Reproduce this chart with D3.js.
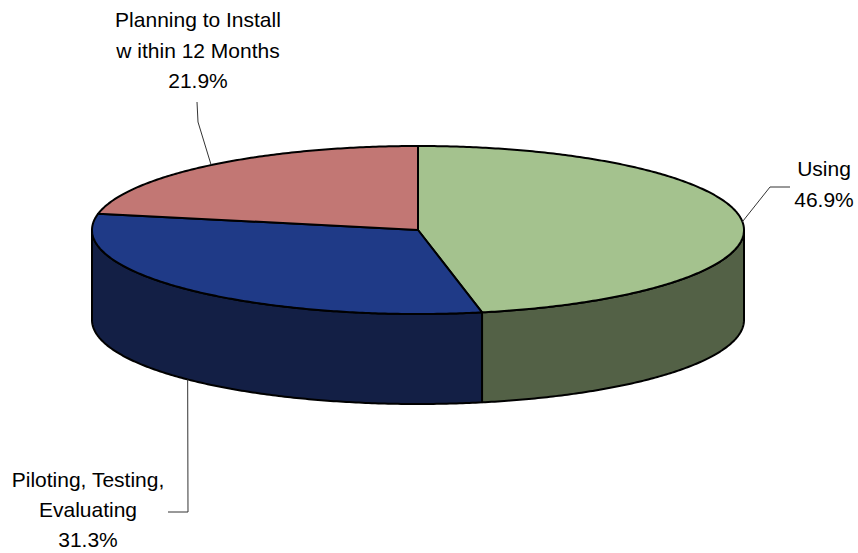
<!DOCTYPE html>
<html><head><meta charset="utf-8">
<script src="https://cdn.jsdelivr.net/npm/d3@7"></script>
<style>body{margin:0;background:#fff}svg{display:block}</style>
</head><body><svg id="c" width="858" height="553"></svg>
<script>
const categories = ["Using", "Piloting, Testing, Evaluating", "Planning to Install within 12 Months"];
const values = [46.9, 31.3, 21.9];
const labelLines = [["Using", "46.9%"], ["Piloting, Testing,", "Evaluating", "31.3%"], ["Planning to Install", "w ithin 12 Months", "21.9%"]];
const topColors = ["#A4C28E", "#1F3A87", "#C27774"];
const sideColors = ["#536146", "#131F45", "#6E4342"];

const W = 858, H = 553;
const cx = 418, cy = 230, rx = 326, ry = 84, depth = 90;
const svg = d3.select("#c");

const pie = d3.pie().sort(null).value(d => d.v)(values.map((v, i) => ({v, i})));
const pt = (a, dy = 0) => [cx + rx * Math.sin(a), cy - ry * Math.cos(a) + dy];
function arcPts(a0, a1, dy = 0) {
  const n = Math.max(2, Math.ceil(Math.abs(a1 - a0) / 0.01));
  return d3.range(n + 1).map(k => pt(a0 + (a1 - a0) * k / n, dy));
}
const line = d3.line();

// side walls
pie.forEach(s => {
  const a0 = Math.max(s.startAngle, Math.PI / 2), a1 = Math.min(s.endAngle, 3 * Math.PI / 2);
  if (a1 <= a0) return;
  const pts = arcPts(a0, a1).concat(arcPts(a1, a0, depth));
  svg.append("path").attr("d", line(pts) + "Z")
    .attr("fill", sideColors[s.data.i]).attr("stroke", "#000").attr("stroke-width", 2).attr("stroke-linejoin", "round");
});
// tops
pie.forEach(s => {
  const pts = [[cx, cy]].concat(arcPts(s.startAngle, s.endAngle));
  svg.append("path").attr("d", line(pts) + "Z")
    .attr("fill", topColors[s.data.i]).attr("stroke", "#000").attr("stroke-width", 2).attr("stroke-linejoin", "round");
});

// leader lines
const mid = s => (s.startAngle + s.endAngle) / 2;
const anchors = [pt(mid(pie[0])), pt(mid(pie[1]), depth), pt(mid(pie[2]))];
const leaders = [
  [anchors[0], [770, 187], [790, 187]],
  [anchors[1], [188, 512], [168, 512]],
  [anchors[2], [198, 122], [197, 102]]
];
leaders.forEach(p => svg.append("path").attr("d", line(p)).attr("fill", "none").attr("stroke", "#333").attr("stroke-width", 1));

// labels
const labelPos = [[824, [176, 207]], [88, [487, 517, 547]], [198, [27, 58, 88]]];
labelLines.forEach((ls, i) => {
  ls.forEach((t, j) => {
    svg.append("text").attr("x", labelPos[i][0]).attr("y", labelPos[i][1][j])
      .attr("text-anchor", "middle").attr("font-family", "Liberation Sans, Arial, sans-serif")
      .attr("font-size", 21).attr("fill", "#000").text(t);
  });
});
</script></body></html>
